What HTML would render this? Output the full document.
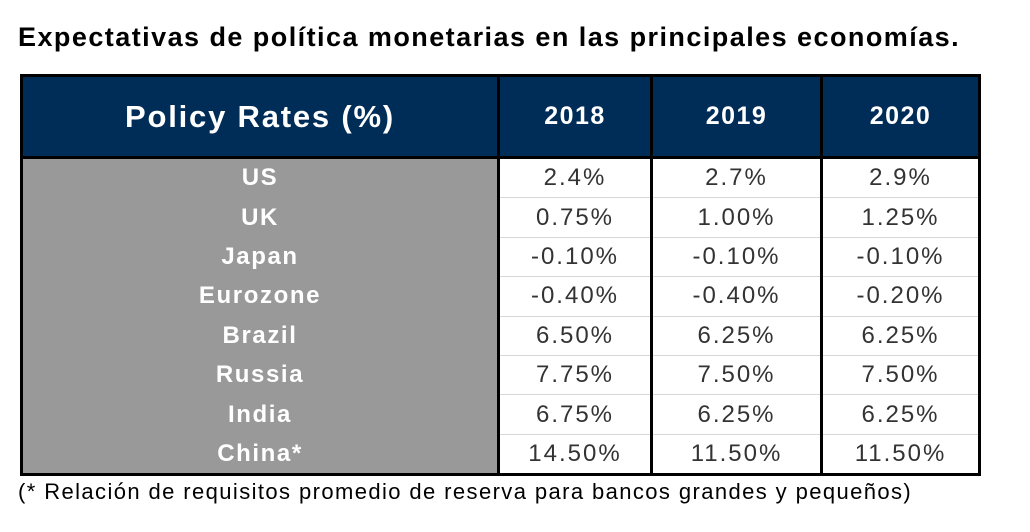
<!DOCTYPE html>
<html><head><meta charset="utf-8"><style>
body{margin:0;width:1030px;height:532px;background:#fff;position:relative;overflow:hidden;font-family:"Liberation Sans",sans-serif}
#title{position:absolute;left:18px;top:22px;font-size:27px;font-weight:bold;color:#000;letter-spacing:1.45px;white-space:nowrap}
#tbl{position:absolute;left:20px;top:74px;border-collapse:collapse;border:3px solid #000}
#tbl th{background:#002d57;color:#fff;height:79px;font-size:25px;font-weight:bold;border-left:3px solid #000;padding:0;letter-spacing:1.5px}
#tbl th.lab{font-size:31px;border-left:none;letter-spacing:1.8px}
#tbl td{height:38.4px;padding:0;text-align:center;font-size:24px;color:#333;border-left:3px solid #000;border-top:1.5px solid #d8d8d8;letter-spacing:2px}
#tbl td.lab{background:#999;color:#fff;font-weight:bold;border-left:none;border-top:none;font-size:24px;letter-spacing:1.6px}
#tbl tr.first td{border-top:3px solid #000}
#note{position:absolute;left:18px;top:479px;font-size:22px;color:#000;letter-spacing:1.4px;white-space:nowrap}
</style></head><body>
<div id="title">Expectativas de política monetarias en las principales economías.</div>
<table id="tbl">
<colgroup><col style="width:477px"><col style="width:153px"><col style="width:170px"><col style="width:158px"></colgroup>
<thead><tr>
<th class="lab">Policy Rates (%)</th>
<th>2018</th>
<th>2019</th>
<th>2020</th></tr></thead>
<tbody id="body"></tbody></table>
<div id="note">(* Relación de requisitos promedio de reserva para bancos grandes y pequeños)</div>
<script>
const countries=["US","UK","Japan","Eurozone","Brazil","Russia","India","China*"];
const v2018=["2.4%","0.75%","-0.10%","-0.40%","6.50%","7.75%","6.75%","14.50%"];
const v2019=["2.7%","1.00%","-0.10%","-0.40%","6.25%","7.50%","6.25%","11.50%"];
const v2020=["2.9%","1.25%","-0.10%","-0.20%","6.25%","7.50%","6.25%","11.50%"];
const tb=document.getElementById('body');
countries.forEach((c,i)=>{
const tr=document.createElement('tr');
if(i===0)tr.className='first';


const l=document.createElement('td');l.className='lab';l.textContent=c;


tr.appendChild(l);
[v2018,v2019,v2020].forEach((arr,j)=>{
const td=document.createElement('td');td.textContent=arr[i];


tr.appendChild(td);});
tb.appendChild(tr);});
</script>
</body></html>
